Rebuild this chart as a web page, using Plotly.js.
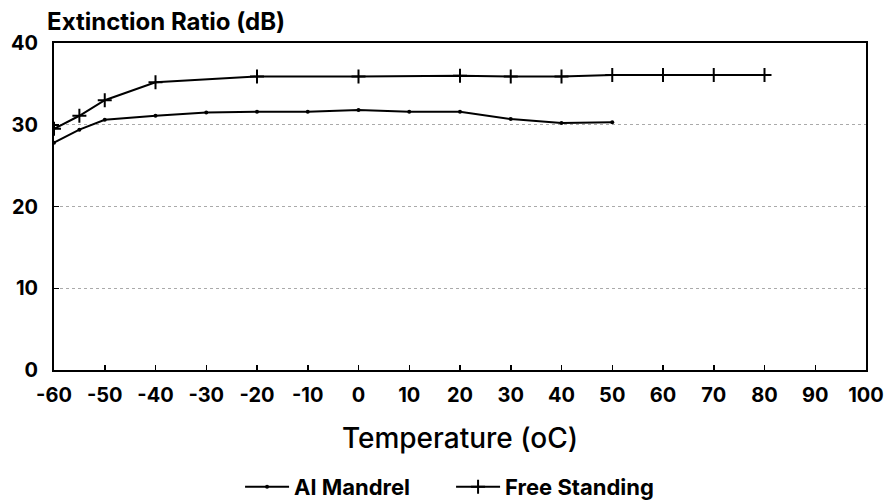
<!DOCTYPE html>
<html>
<head>
<meta charset="utf-8">
<script src="https://cdn.plot.ly/plotly-3.0.1.min.js"></script>
<style>html,body{margin:0;padding:0;background:#fff;}#chart{width:888px;height:504px;}</style>
</head>
<body>
<div id="chart"></div>
<script>
// Data
const alTemp = [-60, -55, -50, -40, -30, -20, -10, 0, 10, 20, 30, 40, 50];
const alRatio = [27.8, 29.4, 30.6, 31.1, 31.5, 31.6, 31.6, 31.8, 31.6, 31.6, 30.7, 30.2, 30.3];
const fsTemp = [-60, -55, -50, -40, -20, 0, 20, 30, 40, 50, 60, 70, 80];
const fsRatio = [29.5, 31.1, 33.0, 35.2, 35.9, 35.9, 36.0, 35.9, 35.9, 36.1, 36.1, 36.1, 36.1];
const xTicks = [-60, -50, -40, -30, -20, -10, 0, 10, 20, 30, 40, 50, 60, 70, 80, 90, 100];
const yTicks = [0, 10, 20, 30, 40];

const boldFont = {family: 'Inter, Liberation Sans, sans-serif', color: '#000', weight: 700};

const traces = [
  {
    x: alTemp, y: alRatio, name: 'Al Mandrel', type: 'scatter', mode: 'lines+markers',
    line: {color: '#000', width: 2},
    marker: {symbol: 'circle', size: 4, color: '#000'}
  },
  {
    x: fsTemp, y: fsRatio, name: 'Free Standing', type: 'scatter', mode: 'lines+markers',
    line: {color: '#000', width: 2},
    marker: {symbol: 'cross-thin-open', size: 10, line: {color: '#000', width: 2}}
  }
];

const layout = {
  width: 888, height: 504,
  margin: {l: 54, r: 22, t: 43, b: 134, autoexpand: false},
  paper_bgcolor: '#fff', plot_bgcolor: '#fff',
  showlegend: true,
  title: {
    text: 'Extinction Ratio (dB)',
    font: Object.assign({}, boldFont, {size: 24}),
    xref: 'container', x: 0.053, xanchor: 'left',
    yref: 'container', y: 1 - 22 / 504, yanchor: 'middle'
  },
  xaxis: {
    range: [-60, 100], tickvals: xTicks, ticktext: xTicks.map(String),
    automargin: false,
    showgrid: false, zeroline: false,
    showline: true, linecolor: '#000', linewidth: 2, mirror: true,
    ticks: 'inside', ticklen: 5, tickcolor: '#000', tickwidth: 1.5,
    tickfont: Object.assign({}, boldFont, {size: 20}),
    ticklabelstandoff: 6,
    title: {text: 'Temperature (oC)', font: Object.assign({}, boldFont, {size: 28, weight: 550}), standoff: 22}
  },
  yaxis: {
    range: [0, 40], tickvals: yTicks, ticktext: yTicks.map(String),
    automargin: false,
    showgrid: true, gridcolor: '#aaa', griddash: 'dot', gridwidth: 1,
    zeroline: false,
    showline: true, linecolor: '#000', linewidth: 2, mirror: true,
    ticks: 'inside', ticklen: 5, tickcolor: '#000', tickwidth: 1.5,
    tickfont: Object.assign({}, boldFont, {size: 20}),
    ticklabelstandoff: 10
  },
  legend: {
    orientation: 'h', x: 0.489, xanchor: 'center', y: -0.358, yanchor: 'middle',
    font: Object.assign({}, boldFont, {size: 22}),
    itemwidth: 44, entrywidth: 152, traceorder: 'normal'
  }
};

Plotly.newPlot('chart', traces, layout, {displayModeBar: false, staticPlot: true});
</script>
</body>
</html>
